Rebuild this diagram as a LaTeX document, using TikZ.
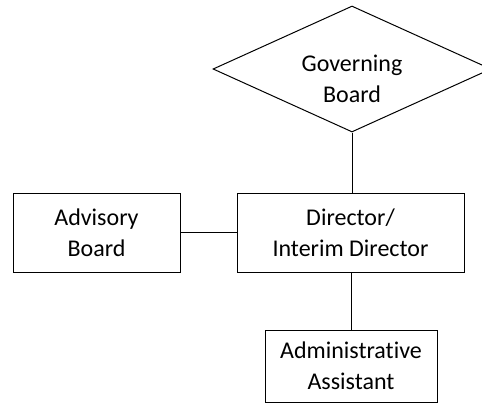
\documentclass[tikz,border=0pt]{standalone}
\usepackage{fontspec}
\setmainfont{Carlito}[Ligatures=NoCommon]
\usetikzlibrary{shapes.geometric}
\tikzset{
  orgbox/.style={draw, line width=1pt, rectangle, inner sep=0pt, align=center, font=\fontsize{24}{31}\selectfont},
  govshape/.style={draw, line width=1pt, diamond, inner sep=0pt, minimum width=278pt, minimum height=126pt},
  orgtext/.style={align=center, inner sep=0pt, font=\fontsize{24}{31}\selectfont},
  orgline/.style={line width=1pt}
}
\begin{document}
\begin{tikzpicture}[x=1pt,y=-1pt]
\useasboundingbox (0,0) rectangle (482,413);
\clip (0,0) rectangle (482,413);
\node[govshape] (gov) at (352,69){};
\node[orgtext] (govtext) at (352,79){Governing\\Board};
\node[orgbox, minimum width=227pt, minimum height=79pt] (dir) at (350.5,232.5){Director/\\Interim Director};
\node[orgbox, minimum width=167pt, minimum height=79pt] (adv) at (96.5,232.5){Advisory\\Board};
\node[orgbox, minimum width=172pt, minimum height=72pt] (adm) at (351,366){Administrative\\Assistant};
\draw[orgline](gov.south) -- (gov.south |- dir.north);
\draw[orgline](adv.east) -- (dir.west);
\draw[orgline](dir.south -| adm.north) -- (adm.north);
\end{tikzpicture}
\end{document}
